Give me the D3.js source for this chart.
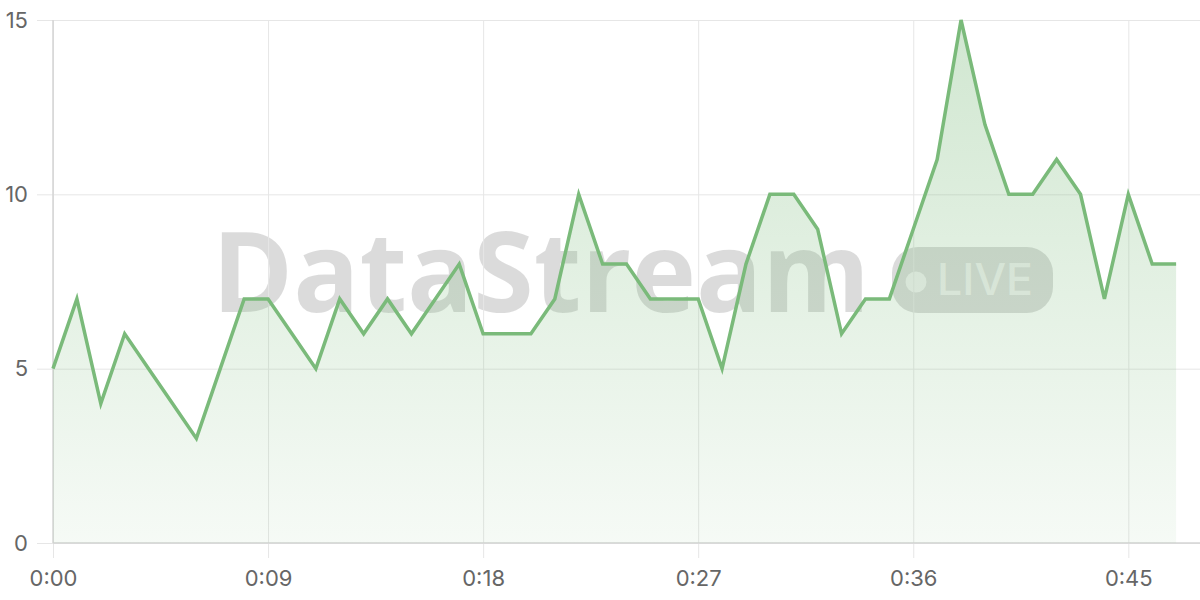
<!DOCTYPE html>
<html>
<head>
<meta charset="utf-8">
<script src="https://cdn.jsdelivr.net/npm/d3@7"></script>
<style>
  html, body { margin: 0; padding: 0; background: #fff; }
  svg { display: block; }
</style>
</head>
<body>
<svg id="svg" width="1200" height="600"></svg>
<script>
// seconds since start, one reading per second
var seconds = d3.range(0, 48);
var values = [5, 7, 4, 6, 5, 4, 3, 5, 7, 7,
              6, 5, 7, 6, 7, 6, 7, 8, 6, 6,
              6, 7, 10, 8, 8, 7, 7, 7, 5, 8,
              10, 10, 9, 6, 7, 7, 9, 11, 15, 12,
              10, 10, 11, 10, 7, 10, 8, 8];
var xTicks = [0, 9, 18, 27, 36, 45];
var yTicks = [0, 5, 10, 15];

var svg = d3.select("#svg");
var margin = { top: 20, right: 0, bottom: 57, left: 53 };
var width = 1200 - margin.left - margin.right;
var height = 600 - margin.top - margin.bottom;

var x = d3.scaleLinear().domain([0, 48]).range([margin.left, margin.left + width]);
var y = d3.scaleLinear().domain([0, 15]).range([margin.top + height, margin.top]);

var fmt = function(s) { return Math.floor(s / 60) + ":" + d3.format("02")(s % 60); };

// gradient for area
var defs = svg.append("defs");
var grad = defs.append("linearGradient")
  .attr("id", "areaGrad").attr("x1", 0).attr("x2", 0).attr("y1", 0).attr("y2", 1);
grad.append("stop").attr("offset", "0%").attr("stop-color", "#7aba7a").attr("stop-opacity", 0.35);
grad.append("stop").attr("offset", "100%").attr("stop-color", "#7aba7a").attr("stop-opacity", 0.07);

// watermark
var wm = svg.append("g").attr("class", "watermark");
wm.append("text")
  .attr("x", 212).attr("y", 312)
  .attr("textLength", 658).attr("lengthAdjust", "spacingAndGlyphs")
  .style("font-family", "'Open Sans', sans-serif")
  .style("font-weight", 700)
  .style("font-size", "111px")
  .attr("fill", "#000").attr("fill-opacity", 0.14)
  .text("DataStream");
wm.append("rect")
  .attr("x", 892).attr("y", 247).attr("width", 161).attr("height", 66)
  .attr("rx", 26)
  .attr("fill", "#000").attr("fill-opacity", 0.14);
wm.append("circle")
  .attr("cx", 916).attr("cy", 282).attr("r", 10.5)
  .attr("fill", "#fff").attr("fill-opacity", 0.6);
wm.append("text")
  .attr("x", 937).attr("y", 295)
  .attr("textLength", 96).attr("lengthAdjust", "spacingAndGlyphs")
  .style("font-family", "Inter, sans-serif")
  .style("font-weight", 500)
  .style("font-size", "44px")
  .attr("fill", "#fff").attr("fill-opacity", 0.6)
  .text("LIVE");

// horizontal grid + y axis labels
var yAxis = svg.append("g")
  .attr("transform", "translate(" + margin.left + ",0)")
  .call(d3.axisLeft(y).tickValues(yTicks).tickSize(16).tickPadding(9).tickFormat(d3.format("d")));
yAxis.select(".domain").remove();
yAxis.selectAll(".tick line").attr("stroke", "#e6e6e6");
yAxis.selectAll(".tick")
  .append("line")
  .attr("x1", 0).attr("x2", width)
  .attr("stroke", "#e6e6e6");

// vertical grid + x axis labels
var xAxis = svg.append("g")
  .attr("transform", "translate(0," + (margin.top + height) + ")")
  .call(d3.axisBottom(x).tickValues(xTicks).tickSize(15).tickPadding(12).tickFormat(fmt));
xAxis.select(".domain").remove();
xAxis.selectAll(".tick line").attr("stroke", "#e6e6e6");
xAxis.selectAll(".tick")
  .append("line")
  .attr("y1", 0).attr("y2", -height)
  .attr("stroke", "#e6e6e6");

svg.selectAll(".tick text")
  .style("font-family", "Inter, sans-serif")
  .style("font-size", "22px")
  .attr("fill", "#666");

// axis lines
svg.append("line")
  .attr("x1", margin.left).attr("x2", margin.left)
  .attr("y1", margin.top).attr("y2", margin.top + height)
  .attr("stroke", "#d4d4d4").attr("stroke-width", 1.5);
svg.append("line")
  .attr("x1", margin.left).attr("x2", margin.left + width)
  .attr("y1", margin.top + height).attr("y2", margin.top + height)
  .attr("stroke", "#d4d4d4").attr("stroke-width", 1.5);

// series
var pts = seconds.map(function(s, i) { return [s, values[i]]; });

svg.append("path")
  .datum(pts)
  .attr("fill", "url(#areaGrad)")
  .attr("d", d3.area()
    .x(function(d) { return x(d[0]); })
    .y0(y(0))
    .y1(function(d) { return y(d[1]); }));

svg.append("path")
  .datum(pts)
  .attr("fill", "none")
  .attr("stroke", "#7aba7a")
  .attr("stroke-width", 3.5)
  .attr("stroke-linejoin", "miter")
  .attr("d", d3.line()
    .x(function(d) { return x(d[0]); })
    .y(function(d) { return y(d[1]); }));
</script>
</body>
</html>
